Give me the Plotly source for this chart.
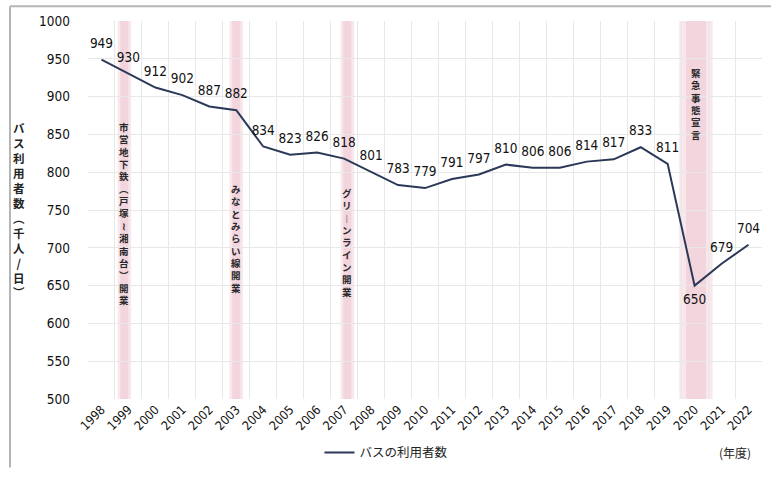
import plotly.graph_objects as go

years = list(range(1998, 2023))
riders = [949, 930, 912, 902, 887, 882, 834, 823, 826, 818, 801, 783, 779,
          791, 797, 810, 806, 806, 814, 817, 833, 811, 650, 679, 704]
label_pos = ["top center"] * len(years)
label_pos[years.index(2020)] = "bottom center"

events = [
    ("市営地下鉄︵戸塚≀湘南台︶開業", 1998.85, 0.25, 872),
    ("みなとみらい線開業", 2003.0, 0.25, 790),
    ("グリ︱ンライン開業", 2007.12, 0.25, 785),
    ("緊急事態宣言", 2020.05, 0.62, 943),
]
y_title = "バス利用者数︵千人/日︶"
series_name = "バスの利用者数"
unit_label = "(年度)"

NUM_FONT = "DejaVu Sans Condensed"
JP_FONT = "Noto Sans CJK JP"

fig = go.Figure()

fig.add_trace(go.Scatter(
    x=years, y=riders, mode="lines+markers+text", name=series_name,
    line=dict(color="#2c3858", width=2),
    marker=dict(size=12, color="rgba(0,0,0,0)"),
    text=[str(v) for v in riders], textposition=label_pos,
    textfont=dict(family=NUM_FONT, size=13.5, color="#111111"),
    cliponaxis=False,
))

shapes = []
for txt, xc, half, ytop in events:
    shapes.append(dict(type="rect", xref="x", yref="paper", x0=xc - half, x1=xc + half,
                       y0=0, y1=1, fillcolor="rgba(240,205,212,0.45)", line=dict(width=0),
                       layer="below"))
    shapes.append(dict(type="rect", xref="x", yref="paper", x0=xc - half * 0.6, x1=xc + half * 0.6,
                       y0=0, y1=1, fillcolor="rgba(228,170,185,0.30)", line=dict(width=0),
                       layer="below"))
# outer frame lines
shapes.append(dict(type="line", xref="paper", yref="paper",
                   x0=(10 - 88) / 674, x1=(771 - 88) / 674,
                   y0=(407 - 6) / 386, y1=(407 - 6) / 386,
                   line=dict(color="#b5b5b5", width=2)))
shapes.append(dict(type="line", xref="paper", yref="paper",
                   x0=(10 - 88) / 674, x1=(10 - 88) / 674,
                   y0=(407 - 6) / 386, y1=(407 - 477) / 386,
                   line=dict(color="#b5b5b5", width=2)))

annotations = []
for txt, xc, half, ytop in events:
    annotations.append(dict(x=xc, y=ytop, xref="x", yref="y", xanchor="center", yanchor="top",
                            text="<br>".join(list(txt)), showarrow=False,
                            font=dict(family=JP_FONT, size=9.5, color="#2a2a2a", weight="bold")))
annotations.append(dict(x=(19 - 88) / 674, y=0.5, xref="paper", yref="paper",
                        xanchor="center", yanchor="middle",
                        text="<br>".join(list(y_title)), showarrow=False,
                        font=dict(family=JP_FONT, size=11.5, color="#222222", weight="bold")))
annotations.append(dict(x=(735 - 88) / 674, y=(407 - 462) / 386, xref="paper", yref="paper",
                        xanchor="center", yanchor="middle", text=unit_label, showarrow=False,
                        font=dict(family=JP_FONT, size=12, color="#222222")))

fig.update_layout(
    width=771, height=477,
    margin=dict(l=88, r=9, t=21, b=70),
    paper_bgcolor="white", plot_bgcolor="white",
    showlegend=True,
    legend=dict(orientation="h", x=(386 - 88) / 674, xanchor="center",
                y=(407 - 462) / 386, yanchor="middle",
                font=dict(family=JP_FONT, size=12.5, color="#222222"),
                bgcolor="rgba(0,0,0,0)", itemwidth=30),
    shapes=shapes, annotations=annotations,
)
fig.update_xaxes(
    range=[1997.5, 2022.5], tickmode="array", tickvals=years,
    ticktext=[str(y) for y in years], tickangle=-45,
    tickfont=dict(family=NUM_FONT, size=12.5, color="#111111"),
    showgrid=False, zeroline=False, showline=False, ticks="",
    minor=dict(tick0=1997.5, dtick=1, showgrid=True, gridcolor="#e8e8e8", gridwidth=1),
)
fig.update_yaxes(
    range=[500, 1000], dtick=50, tick0=500,
    tickfont=dict(family=NUM_FONT, size=13.5, color="#111111"),
    showgrid=True, gridcolor="#e8e8e8", gridwidth=1, zeroline=False, showline=False,
    ticks="", ticklabelstandoff=17,
)

fig.write_html("out.html")
